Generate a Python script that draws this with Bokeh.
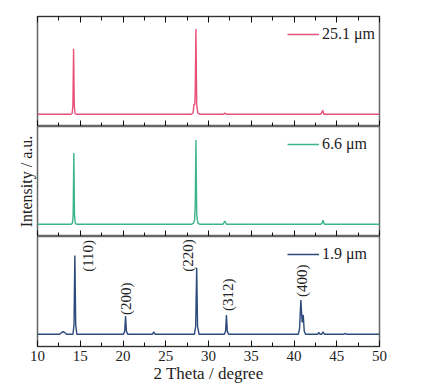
from math import pi
from bokeh.plotting import figure
from bokeh.layouts import column
from bokeh.models import (LinearAxis, SingleIntervalTicker, Range1d, Legend, LegendItem)
from bokeh.core.properties import value
from bokeh.embed import file_html
from bokeh.resources import INLINE

# ---------------- data ----------------
# 25.1 um sample
x_251 = [10, 13.9, 14.05, 14.14, 14.22, 14.3, 14.4, 14.6, 28.0, 28.2, 28.3, 28.4, 28.45, 28.53, 28.62, 28.75, 29.0,
         31.75, 31.9, 32.05, 43.1, 43.25, 43.35, 43.5, 50]
y_251 = [0, 0, 10, 110, 830, 110, 10, 0, 0, 20, 130, 120, 300, 1080, 120, 15, 0,
         0, 15, 0, 0, 20, 50, 0, 0]

# 6.6 um sample
x_66 = [10, 13.9, 14.08, 14.17, 14.25, 14.33, 14.42, 14.6, 28.0, 28.25, 28.38, 28.45, 28.53, 28.62, 28.75, 29.0,
        31.7, 31.9, 32.1, 43.15, 43.3, 43.4, 43.55, 50]
y_66 = [0, 0, 10, 110, 905, 110, 10, 0, 0, 15, 60, 250, 1070, 120, 15, 0,
        0, 40, 0, 0, 20, 50, 0, 0]

# 1.9 um sample
x_19 = [10, 12.6, 12.85, 13.0, 13.15, 13.4, 14.15, 14.27, 14.37, 14.47, 14.6, 20.05, 20.2, 20.3, 20.4, 20.55,
        23.45, 23.6, 23.75, 28.35, 28.5, 28.62, 28.72, 28.9, 31.85, 32.0, 32.1, 32.2, 32.35,
        40.5, 40.65, 40.8, 40.95, 41.08, 41.2, 41.35, 42.75, 42.9, 43.05, 43.25, 43.4, 43.55,
        45.85, 46.0, 46.15, 50]
y_19 = [0, 0, 25, 35, 25, 0, 0, 120, 1000, 120, 0, 0, 40, 230, 40, 0,
        0, 30, 0, 0, 100, 845, 100, 0, 0, 40, 245, 40, 0,
        0, 70, 435, 150, 245, 40, 0, 0, 25, 0, 0, 30, 0,
        0, 12, 0, 0]

peak_labels = ["(110)", "(200)", "(220)", "(312)", "(400)"]
peak_label_x = [15.85, 20.35, 27.56, 32.25, 40.9]
peak_label_y = [792, 243, 792, 294, 473]

series_names = ["25.1 \u03bcm", "6.6 \u03bcm", "1.9 \u03bcm"]
series_colors = ["#e8507a", "#3bb48f", "#2c4a7c"]

FONT = "Liberation Serif"
X_START, X_END = 10, 50
Y_START, Y_END = -155, 1240

FRAME_W = 342
FRAME_H = 110
LEFT = 37
RIGHT = 12


def make_panel(xs, ys, name, color, top_border, first=False, last=False, ylabel=None):
    p = figure(frame_width=FRAME_W, frame_height=FRAME_H, output_backend="svg",
               toolbar_location=None, x_range=Range1d(X_START, X_END),
               y_range=Range1d(Y_START, Y_END), x_axis_location=None, y_axis_location=None,
               min_border_left=LEFT, min_border_right=RIGHT, min_border_top=top_border,
               min_border_bottom=0)
    p.outline_line_color = "#666666"
    p.outline_line_width = 1.5
    p.grid.visible = False

    r = p.line(xs, ys, line_color=color, line_width=1.4)

    def tick_axis(loc, labels):
        ax = LinearAxis(ticker=SingleIntervalTicker(interval=5, num_minor_ticks=2))
        ax.major_tick_in = 6
        ax.major_tick_out = 0
        ax.minor_tick_in = 4
        ax.minor_tick_out = 0
        ax.major_tick_line_color = "#111111"
        ax.minor_tick_line_color = "#111111"
        ax.axis_line_color = "#333333"
        if labels:
            ax.major_label_text_font = FONT
            ax.major_label_text_font_size = "15px"
            ax.major_label_text_color = "#222222"
            ax.major_label_standoff = 4
            ax.axis_label = "2 Theta / degree"
            ax.axis_label_text_font = FONT
            ax.axis_label_text_font_size = "17px"
            ax.axis_label_text_font_style = "normal"
            ax.axis_label_text_color = "#222222"
            ax.axis_label_standoff = 0
        else:
            ax.major_label_text_font_size = "1px"
            ax.major_label_text_color = None
            ax.major_label_standoff = 0
        p.add_layout(ax, loc)
        return ax

    if first:
        tick_axis("above", False)
    tick_axis("below", last)

    if ylabel:
        ya = LinearAxis()
        ya.major_tick_in = 0
        ya.major_tick_out = 0
        ya.minor_tick_in = 0
        ya.minor_tick_out = 0
        ya.major_label_text_font_size = "1px"
        ya.major_label_text_color = None
        ya.major_label_standoff = 0
        ya.axis_line_color = None
        ya.axis_label = ylabel
        ya.axis_label_text_font = FONT
        ya.axis_label_text_font_size = "16px"
        ya.axis_label_text_font_style = "normal"
        ya.axis_label_text_color = "#222222"
        ya.axis_label_standoff = 3
        p.add_layout(ya, "left")

    leg = Legend(items=[LegendItem(label=name, renderers=[r])], location=(250, 77),
                 glyph_width=32, glyph_height=30, label_height=30, label_standoff=3,
                 label_text_font=FONT, label_text_font_size="16px", label_text_color="#222222",
                 background_fill_alpha=0, border_line_color=None, margin=0, padding=2)
    p.add_layout(leg)
    return p


p1 = make_panel(x_251, y_251, series_names[0], series_colors[0], 16, first=True)
p2 = make_panel(x_66, y_66, series_names[1], series_colors[1], 0, ylabel="Intensity / a.u.")
p3 = make_panel(x_19, y_19, series_names[2], series_colors[2], 0, last=True)

p3.text(x=peak_label_x, y=peak_label_y, text=peak_labels, angle=pi / 2,
        text_align="left", text_baseline="middle", text_font=value(FONT),
        text_font_size="15px", text_color="#222222")

layout = column(p1, p2, p3, spacing=0)

open("out.html", "w").write(file_html(layout, INLINE))
